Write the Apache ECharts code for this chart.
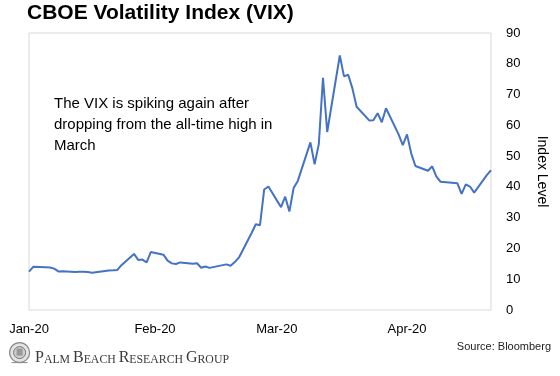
<!DOCTYPE html>
<html>
<head>
<meta charset="utf-8">
<script src="https://cdn.jsdelivr.net/npm/echarts@6/dist/echarts.min.js"></script>
<style>
  html, body { margin: 0; padding: 0; background: #fff; }
  #vix-chart { width: 560px; height: 376px; }
</style>
</head>
<body>
<div id="vix-chart"></div>
<script>
// VIX daily close, Jan 2 - Apr 21 2020
var dates = [
  '2020-01-02','2020-01-03','2020-01-06','2020-01-07','2020-01-08','2020-01-09','2020-01-10',
  '2020-01-13','2020-01-14','2020-01-15','2020-01-16','2020-01-17','2020-01-21','2020-01-22',
  '2020-01-23','2020-01-24','2020-01-27','2020-01-28','2020-01-29','2020-01-30','2020-01-31',
  '2020-02-03','2020-02-04','2020-02-05','2020-02-06','2020-02-07','2020-02-10','2020-02-11',
  '2020-02-12','2020-02-13','2020-02-14','2020-02-18','2020-02-19','2020-02-20','2020-02-21',
  '2020-02-24','2020-02-25','2020-02-26','2020-02-27','2020-02-28',
  '2020-03-02','2020-03-03','2020-03-04','2020-03-05','2020-03-06','2020-03-09','2020-03-10',
  '2020-03-11','2020-03-12','2020-03-13','2020-03-16','2020-03-17','2020-03-18','2020-03-19',
  '2020-03-20','2020-03-23','2020-03-24','2020-03-25','2020-03-26','2020-03-27','2020-03-30',
  '2020-03-31',
  '2020-04-01','2020-04-02','2020-04-03','2020-04-06','2020-04-07','2020-04-08','2020-04-09',
  '2020-04-13','2020-04-14','2020-04-15','2020-04-16','2020-04-17','2020-04-20','2020-04-21'
];
var vix = [
  12.47,14.02,13.85,13.79,13.45,12.54,12.56,
  12.32,12.39,12.42,12.32,12.10,12.85,12.91,
  12.98,14.56,18.23,16.28,16.39,15.49,18.84,
  17.97,16.05,15.15,14.96,15.47,15.04,15.18,
  13.74,14.15,13.68,14.83,14.38,15.56,17.08,
  25.03,27.85,27.56,39.16,40.11,
  33.42,36.82,31.99,39.62,41.94,54.46,47.30,
  53.90,75.47,57.83,82.69,75.91,76.45,72.00,
  66.04,61.59,61.67,63.95,61.00,65.54,57.08,
  53.54,
  57.06,50.91,46.80,45.24,46.70,43.35,41.67,
  41.17,37.76,40.84,40.11,38.15,43.83,45.41
];
// x-axis label positions (first one sits on the first trading day)
var monthTicks = ['2020-01-02','2020-02-01','2020-03-01','2020-04-01'];
var monthNames = ['Jan','Feb','Mar','Apr','May','Jun','Jul','Aug','Sep','Oct','Nov','Dec'];

function toTime(s) {
  var p = s.split('-');
  return new Date(+p[0], +p[1] - 1, +p[2]).getTime();
}

var myChart = echarts.init(document.getElementById('vix-chart'));
var font = 'Liberation Sans, Arial, sans-serif';

var option = {
  backgroundColor: '#fff',
  animation: false,
  title: {
    text: 'CBOE Volatility Index (VIX)',
    left: 27,
    top: 3,
    padding: 0,
    textStyle: { fontFamily: font, fontSize: 21, fontWeight: 'bold', color: '#000' }
  },
  grid: {
    left: 29,
    right: 69,
    top: 33,
    bottom: 66,
    show: true,
    borderColor: '#d9d9d9',
    borderWidth: 1
  },
  xAxis: {
    // dates as timestamps on a plain value axis so the labels can sit on month starts
    type: 'value',
    min: toTime(dates[0]),
    max: toTime(dates[dates.length - 1]),
    axisLine: { show: false },
    axisTick: { show: false },
    splitLine: { show: false },
    axisLabel: {
      customValues: monthTicks.map(toTime),
      margin: 13,
      fontFamily: font,
      fontSize: 13,
      color: '#000',
      formatter: function (v) {
        var d = new Date(v);
        return monthNames[d.getMonth()] + '-' + String(d.getFullYear()).slice(2);
      }
    }
  },
  yAxis: {
    type: 'value',
    position: 'right',
    min: 0,
    max: 90,
    interval: 10,
    name: 'Index Level',
    nameLocation: 'middle',
    nameRotate: -90,
    nameGap: 44,
    nameTextStyle: { fontFamily: font, fontSize: 14, color: '#000' },
    axisLine: { show: false },
    axisTick: { show: false },
    splitLine: { show: false },
    axisLabel: { margin: 15, fontFamily: font, fontSize: 13, color: '#000' }
  },
  series: [
    {
      name: 'VIX',
      type: 'line',
      symbol: 'none',
      lineStyle: { color: '#4472C4', width: 2 },
      data: dates.map(function (d, i) { return [toTime(d), vix[i]]; })
    }
  ],
  graphic: [
    {
      type: 'text',
      left: 54,
      top: 93,
      style: {
        text: 'The VIX is spiking again after\ndropping from the all-time high in\nMarch',
        fontFamily: font,
        fontSize: 15,
        lineHeight: 21,
        fill: '#000'
      }
    },
    {
      type: 'text',
      right: 9,
      top: 341,
      style: {
        text: 'Source: Bloomberg',
        fontFamily: font,
        fontSize: 11,
        fill: '#222'
      }
    },
    {
      type: 'text',
      left: 35,
      top: 350,
      style: {
        text: '{b|P}{s|ALM} {b|B}{s|EACH} {b|R}{s|ESEARCH} {b|G}{s|ROUP}',
        fontFamily: 'Liberation Serif, Times New Roman, serif',
        fontSize: 11.5,
        fill: '#3a3a3a',
        rich: {
          b: { fontFamily: 'Liberation Serif, serif', fontSize: 16, fill: '#3a3a3a', verticalAlign: 'bottom' },
          s: { fontFamily: 'Liberation Serif, serif', fontSize: 11.8, fill: '#3a3a3a', verticalAlign: 'bottom' }
        }
      }
    },
    // small seal logo
    {
      type: 'group',
      left: 9,
      top: 342,
      children: [
        { type: 'circle', shape: { cx: 11, cy: 12, r: 10 }, style: { fill: '#e4e4e4', stroke: '#8a8a8a', lineWidth: 1.2 } },
        { type: 'circle', shape: { cx: 11, cy: 12, r: 6 }, style: { fill: '#cfcfcf', stroke: '#777', lineWidth: 1 } },
        { type: 'rect', shape: { x: 8, y: 8, width: 6, height: 7 }, style: { fill: '#999' } },
        { type: 'line', shape: { x1: 3, y1: 22, x2: 19, y2: 22 }, style: { stroke: '#888', lineWidth: 1 } }
      ]
    }
  ]
};

myChart.setOption(option);
window.onresize = function () {
  myChart.resize();
};
</script>
</body>
</html>
